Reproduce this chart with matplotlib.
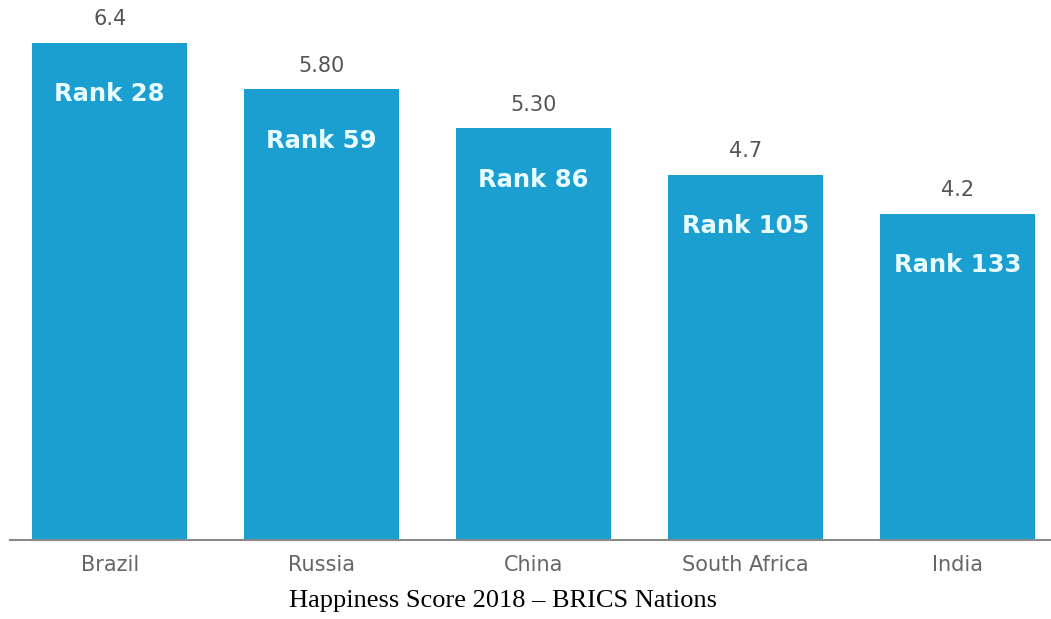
import matplotlib.pyplot as plt

countries = ["Brazil", "Russia", "China", "South Africa", "India"]
scores = [6.4, 5.8, 5.3, 4.7, 4.2]
score_labels = ["6.4", "5.80", "5.30", "4.7", "4.2"]
ranks = [28, 59, 86, 105, 133]

fig = plt.figure(figsize=(10.51, 6.19), dpi=100)
ax = fig.add_axes([10 / 1051, 79 / 619, 1041 / 1051, 540 / 619])

x = range(len(countries))
bars = ax.bar(x, scores, width=0.73, color="#1a9fd0")

for b, s, r in zip(bars, score_labels, ranks):
    cx = b.get_x() + b.get_width() / 2
    h = b.get_height()
    ax.annotate(s, (cx, h), xytext=(0, 17), textcoords="offset points",
                ha="center", va="center", fontsize=15, color="#555555")
    ax.annotate("Rank %d" % r, (cx, h), xytext=(0, -37), textcoords="offset points",
                ha="center", va="center", fontsize=17.5, fontweight="bold",
                color="#e8fbff")

ax.set_xlim(-0.47, 4.44)
ax.set_ylim(0, 6.95)
ax.set_xticks(list(x))
ax.set_xticklabels(countries, fontsize=15, color="#666666")
ax.tick_params(axis="x", length=0, pad=11)
ax.set_yticks([])
for side in ["top", "right", "left"]:
    ax.spines[side].set_visible(False)
ax.spines["bottom"].set_color("#8a8a8a")
ax.spines["bottom"].set_linewidth(1.5)

fig.text(503 / 1051, 1 - 601 / 619, "Happiness Score 2018 \u2013 BRICS Nations",
         ha="center", va="center", fontsize=19, family="Liberation Serif")

fig.savefig("out.png", dpi=100)
